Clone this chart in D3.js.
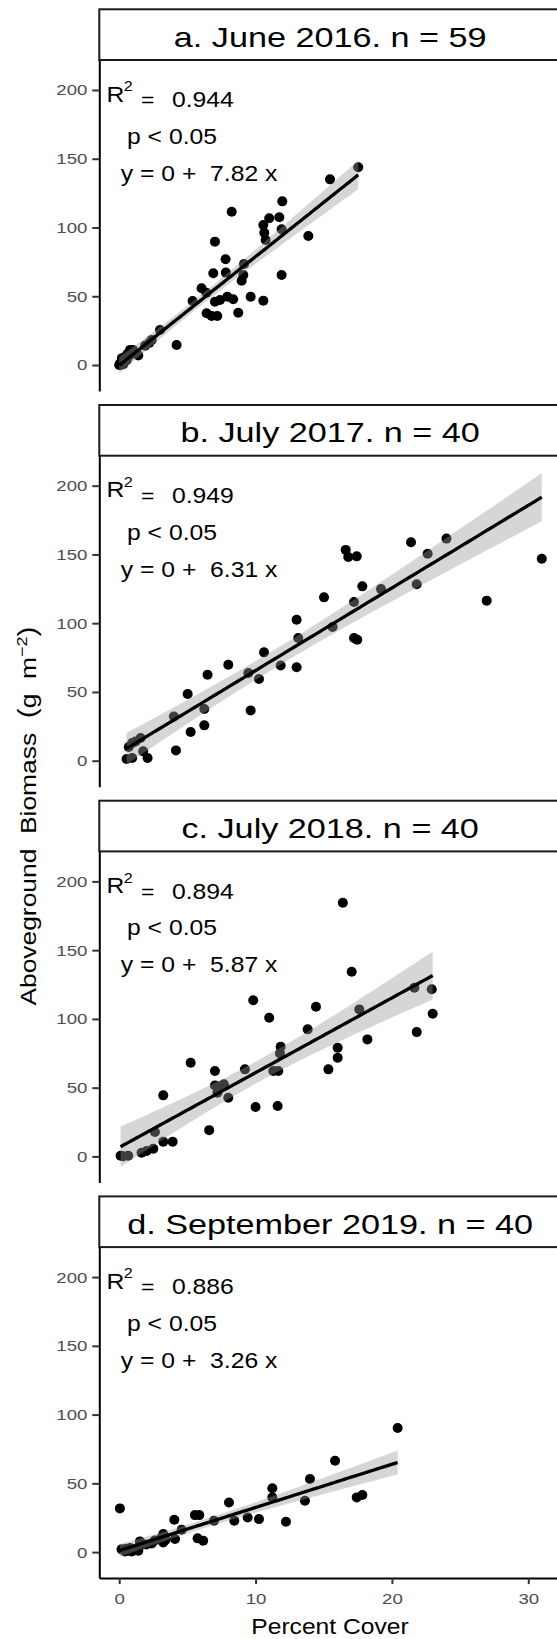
<!DOCTYPE html>
<html>
<head>
<meta charset="utf-8">
<script src="https://cdn.jsdelivr.net/npm/d3@7"></script>
<style>
  body { margin: 0; background: #fff; }
  text { font-family: "Liberation Sans", Arial, Helvetica, sans-serif; white-space: pre; }
</style>
</head>
<body>
<svg id="chart" width="557" height="1639"></svg>
<script>
// panel titles and fit labels
var titles = ["a. June 2016. n = 59", "b. July 2017. n = 40", "c. July 2018. n = 40", "d. September 2019. n = 40"];
var r2Labels = ["0.944", "0.949", "0.894", "0.886"];
var slopeLabels = ["7.82", "6.31", "5.87", "3.26"];

var xTicks = [0, 10, 20, 30];
var yTicks = [0, 50, 100, 150, 200];

// a. June 2016
var coverA = [17.53, 15.46, 11.96, 8.25, 11.74, 11.0, 10.57, 11.91, 10.64, 10.74, 13.87, 7.02, 7.8, 9.15, 6.9, 7.82, 9.1, 8.98, 11.91, 6.04,
  6.4, 5.38, 7.02, 7.39, 7.93, 8.36, 9.64, 10.57, 6.41, 6.78, 7.19, 8.73, 4.21, 2.99, 2.38, 2.2,
  0, 0.05, 0.1, 0.15, 0.2, 0.25, 0.3, 0.35, 0.4, 0.45, 0.5, 0.55, 0.6, 0.7, 0.75, 0.8, 0.9, 1.0, 1.1, 1.3, 1.4, 0.2, 1.9];
var biomassA = [143.8, 135.0, 119.0, 111.5, 107.4, 106.7, 101.8, 98.7, 96.2, 90.9, 93.8, 89.7, 76.9, 73.5, 66.7, 67.2, 65.5, 61.3, 65.5, 55.8,
  52.6, 46.5, 46.0, 47.3, 49.7, 47.8, 49.7, 46.8, 37.6, 35.6, 35.6, 38.0, 14.5, 25.5, 18.2, 16.0,
  0, 1, 0, 2, 1.5, 3, 0.5, 4, 2.5, 6, 5, 3.5, 8, 9, 7, 11, 10, 11, 9, 8, 7, 5, 14];

// b. July 2017
var coverB = [30.99, 26.95, 21.4, 24.0, 22.62, 21.82, 16.61, 16.8, 17.42, 19.2, 17.83, 17.22, 15.02, 13.01, 13.13, 15.65, 17.22, 17.46, 10.62, 11.84,
  13.01, 8.0, 9.47, 10.25, 6.48, 5.02, 6.24, 9.64, 4.01, 6.24, 5.24, 4.16, 0.54, 0.95, 2.08, 0.95, 1.57, 1.76, 1.2, 0.7];
var biomassB = [146.9, 116.4, 158.8, 161.5, 150.5, 128.3, 153.3, 148.1, 148.6, 124.8, 126.8, 115.4, 118.8, 102.5, 89.2, 97.2, 89.2, 88.0, 78.8, 69.3,
  67.9, 69.8, 63.8, 59.4, 62.5, 48.5, 37.6, 36.6, 32.2, 25.7, 20.9, 7.5, 1.2, 2.0, 2.0, 12.9, 16.5, 6.8, 14, 10];

// c. July 2018
var coverC = [17.05, 9.83, 14.43, 11.0, 13.82, 17.61, 21.65, 22.92, 22.99, 21.82, 18.2, 16.02, 16.02, 15.34, 11.84, 11.79, 11.3, 11.67, 9.22, 7.02,
  5.24, 7.02, 7.39, 7.68, 7.2, 8.0, 10.0, 11.62, 3.23, 6.6, 2.62, 3.23, 3.92, 2.5, 2.01, 1.64, 0.3, 0.66, 16.4, 0.1];
var biomassC = [134.3, 113.5, 108.8, 100.8, 92.4, 106.9, 122.7, 121.5, 103.8, 90.4, 85.1, 79.0, 71.8, 63.3, 79.8, 74.9, 62.1, 62.1, 63.3, 62.1,
  68.1, 51.6, 51.1, 52.4, 46.3, 42.7, 35.9, 36.6, 44.4, 19.1, 17.7, 10.7, 10.7, 5.6, 3.9, 2.7, 0.2, 0.5, 184.5, 0.5];

// d. September 2019
var coverD = [20.42, 15.83, 13.99, 13.62, 17.42, 17.83, 11.23, 11.23, 12.23, 8.05, 5.55, 5.87, 6.95, 8.44, 9.42, 10.25, 4.04, 4.58, 5.75, 6.16,
  0.05, 3.23, 3.23, 4.09, 2.38, 1.52, 1.4, 0.42, 0.66, 0.91, 0.17, 0.5, 0.8, 1.2, 1.5, 2.0, 2.6, 3.1, 3.4, 1.0];
var biomassD = [90.2, 66.4, 53.1, 37.3, 39.8, 41.5, 46.5, 39.8, 22.1, 36.1, 26.9, 26.9, 22.8, 22.8, 25.2, 24.0, 23.5, 16.2, 10.0, 8.2,
  31.8, 13.1, 7.0, 9.5, 6.3, 7.8, 1.0, 0.5, 1.0, 0.5, 2.0, 2.5, 3, 2.0, 4.5, 5.5, 8.5, 10.5, 9, 0.8];

var covers = [coverA, coverB, coverC, coverD];
var biomasses = [biomassA, biomassB, biomassC, biomassD];

// layout
var left = 99.3, right = 561;
var stripTop = 9.3, stripH = 50.7, panelH = 331, gap = 14;
var step = stripH + panelH + gap;
var stretch = 1.2;

var svg = d3.select("#chart");
var x = d3.scaleLinear().domain([-1.46, 32.4]).range([left, right]);

// ordinary least squares with 95% confidence band, like geom_smooth(method = "lm")
function lmFit(xs, ys) {
  var n = xs.length;
  var mx = d3.mean(xs), my = d3.mean(ys);
  var sxx = 0, sxy = 0;
  for (var i = 0; i < n; i++) { sxx += (xs[i] - mx) * (xs[i] - mx); sxy += (xs[i] - mx) * (ys[i] - my); }
  var b = sxy / sxx, a = my - b * mx;
  var sse = 0;
  for (var j = 0; j < n; j++) { var r = ys[j] - (a + b * xs[j]); sse += r * r; }
  var s = Math.sqrt(sse / (n - 2));
  var t = 1.96 + 2.4 / (n - 2);
  var lo = d3.min(xs), hi = d3.max(xs);
  var grid = d3.range(80).map(function(k) {
    var xv = lo + (hi - lo) * k / 79;
    var fitv = a + b * xv;
    var se = s * Math.sqrt(1 / n + (xv - mx) * (xv - mx) / sxx);
    return { x: xv, y: fitv, lo: fitv - t * se, hi: fitv + t * se };
  });
  return grid;
}

function label(g, px, py, str, size, opts) {
  opts = opts || {};
  var sc = opts.scale || stretch;
  return g.append("text")
    .attr("transform", "translate(" + px + "," + py + ")" + (opts.rotate ? " rotate(" + opts.rotate + ")" : "") + " scale(" + sc + ",1)")
    .attr("text-anchor", opts.anchor || "start")
    .attr("font-size", size)
    .attr("fill", opts.fill || "#000")
    .text(str);
}

titles.forEach(function(title, i) {
  var g = svg.append("g").attr("transform", "translate(0," + (i * step) + ")");
  var pTop = stripTop + stripH, pBot = pTop + panelH;
  var y = d3.scaleLinear().domain([-18.9, 221.8]).range([pBot, pTop]);

  // strip
  g.append("rect")
    .attr("x", left).attr("y", stripTop)
    .attr("width", 480).attr("height", stripH)
    .attr("fill", "#fff").attr("stroke", "#1a1a1a").attr("stroke-width", 2);
  label(g, (left + right) / 2, stripTop + 37.4, title, 28.5, { anchor: "middle" });

  var xs = covers[i], ys = biomasses[i];
  var pts = xs.map(function(v, k) { return [v, ys[k]]; });

  g.append("g").selectAll("circle")
    .data(pts).enter().append("circle")
    .attr("cx", function(d) { return x(d[0]); })
    .attr("cy", function(d) { return y(d[1]); })
    .attr("r", 5)
    .attr("fill", "#000");

  var band = lmFit(xs, ys);
  g.append("path")
    .datum(band)
    .attr("fill", "#999999").attr("fill-opacity", 0.4)
    .attr("d", d3.area().x(function(d) { return x(d.x); })
      .y0(function(d) { return y(d.lo); }).y1(function(d) { return y(d.hi); }));
  g.append("path")
    .datum(band)
    .attr("fill", "none").attr("stroke", "#000").attr("stroke-width", 3.3)
    .attr("d", d3.line().x(function(d) { return x(d.x); }).y(function(d) { return y(d.y); }));

  // y axis
  var ya = g.append("g").attr("transform", "translate(" + left + ",0)")
    .call(d3.axisLeft(y).tickValues(yTicks).tickSize(7).tickSizeOuter(0).tickPadding(5));
  ya.select(".domain").attr("stroke", "#000").attr("stroke-width", 2);
  ya.selectAll(".tick line").attr("stroke", "#333").attr("stroke-width", 2);
  ya.selectAll(".tick text")
    .attr("font-size", 15.5).attr("font-family", "Liberation Sans, Arial, sans-serif")
    .attr("fill", "#4d4d4d")
    .attr("x", -12 / stretch)
    .attr("transform", "scale(" + stretch + ",1)");

  // fit annotation
  var ax = 1.15;
  label(g, 106.6, pTop + 41.7, "R", 21.5, { scale: ax });
  label(g, 123.8, pTop + 31.2, "2", 14, { scale: ax });
  label(g, 141, pTop + 47.3, "=", 20, { scale: ax });
  label(g, 172, pTop + 47.3, r2Labels[i], 21.5, { scale: ax });
  label(g, 127, pTop + 84, "p < 0.05", 21.5, { scale: ax });
  label(g, 120.8, pTop + 121, "y = 0 +  " + slopeLabels[i] + " x", 21.5, { scale: ax });

  if (i === titles.length - 1) {
    var xa = g.append("g").attr("transform", "translate(0," + pBot + ")")
      .call(d3.axisBottom(x).tickValues(xTicks).tickSize(6).tickSizeOuter(0).tickPadding(9));
    xa.select(".domain").attr("stroke", "#000").attr("stroke-width", 2);
    xa.selectAll(".tick line").attr("stroke", "#333").attr("stroke-width", 2);
    xa.selectAll(".tick text")
      .attr("font-size", 15.5).attr("font-family", "Liberation Sans, Arial, sans-serif")
      .attr("fill", "#4d4d4d")
      .attr("transform", "scale(" + stretch + ",1)");
    label(g, 330, pBot + 56, "Percent Cover", 22, { anchor: "middle", scale: 1.12 });
  }
});

// y axis title
var yt = svg.append("text")
  .attr("transform", "translate(35.5,816) rotate(-90) scale(1.2,1)")
  .attr("text-anchor", "middle")
  .attr("font-size", 22);
yt.append("tspan").text("Aboveground  Biomass  ");
yt.append("tspan").attr("font-size", 25).text("(");
yt.append("tspan").text("g  m");
yt.append("tspan").attr("font-size", 15).attr("dy", -9).text("\u22122");
yt.append("tspan").attr("font-size", 25).attr("dy", 9).text(")");
</script>
</body>
</html>
